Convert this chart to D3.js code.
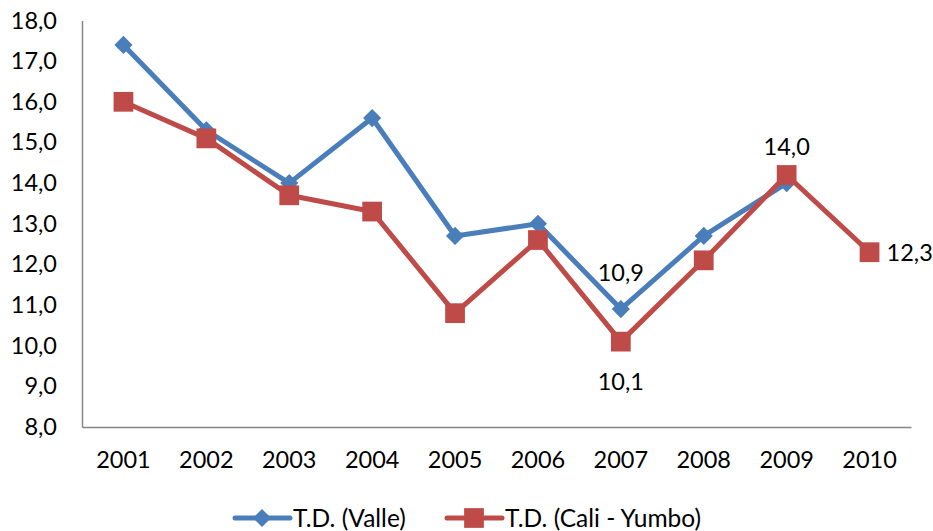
<!DOCTYPE html>
<html><head><meta charset="utf-8">
<script src="https://cdn.jsdelivr.net/npm/d3@7"></script>
<style>
html,body{margin:0;padding:0;background:#fff;}
text{font-family:Lato,"Open Sans",sans-serif;fill:#000;}
</style></head>
<body><svg id="c" width="933" height="531"></svg>
<script>
const years = ["2001","2002","2003","2004","2005","2006","2007","2008","2009","2010"];
const valle = [17.4,15.3,14.0,15.6,12.7,13.0,10.9,12.7,14.0,null];
const caliYumbo = [16.0,15.1,13.7,13.3,10.8,12.6,10.1,12.1,14.2,12.3];
const yTicks = [8,9,10,11,12,13,14,15,16,17,18];
const seriesNames = ["T.D. (Valle)","T.D. (Cali - Yumbo)"];
// data labels shown: [seriesIndex, yearIndex, position]
const labelPoints = [[0,6,"above"],[1,6,"below"],[0,8,"aboveRed"],[1,9,"right"]];

const svg = d3.select("#c");
const blue = "#4A7EBB", red = "#BE4B48";
const FS = 23.5;
const fmt = v => d3.format(".1f")(v).replace(".", ",");

const x = d3.scaleBand().domain(years).range([82, 911]);
const y = d3.scaleLinear().domain([8, 18]).range([427, 20.5]);

// axes
const yAxis = svg.append("g").attr("transform","translate(82,0)")
  .call(d3.axisLeft(y).tickValues(yTicks).tickSize(0).tickPadding(25).tickFormat(fmt));
yAxis.select(".domain").attr("stroke","#868686").attr("stroke-width",1.5);
yAxis.selectAll("text").attr("font-size",FS).style("font-family","Lato");

const xAxis = svg.append("g").attr("transform","translate(0,427)")
  .call(d3.axisBottom(x).tickSize(0).tickPadding(24));
xAxis.select(".domain").attr("stroke","#868686").attr("stroke-width",1.5);
xAxis.selectAll("text").attr("font-size",FS).style("font-family","Lato");

const cx = i => x(years[i]) + x.bandwidth()/2;
const line = d3.line().defined(d => d != null).x((d,i) => cx(i)).y(d => y(d));

// marker: diamond = square rotated 45°
const markers = {
  diamond: {sym: d3.symbol().type(d3.symbolSquare).size(165)(), rot: 45},
  square: {sym: d3.symbol().type(d3.symbolSquare).size(390)(), rot: 0}
};

function drawSeries(vals, color, m){
  svg.append("path").datum(vals).attr("d", line)
    .attr("fill","none").attr("stroke",color).attr("stroke-width",5).attr("stroke-linejoin","round");
  svg.append("g").selectAll("path").data(vals.map((v,i)=>[v,i]).filter(d=>d[0]!=null))
    .join("path")
    .attr("d", m.sym)
    .attr("transform", d => `translate(${cx(d[1])},${y(d[0])}) rotate(${m.rot})`)
    .attr("fill", color);
}
drawSeries(valle, blue, markers.diamond);
drawSeries(caliYumbo, red, markers.square);

// data labels
const all = [valle, caliYumbo];
labelPoints.forEach(([s,i,pos]) => {
  const v = all[s][i];
  let tx = cx(i), ty = y(v), anchor = "middle";
  if (pos === "above") ty -= 36;
  else if (pos === "below") ty += 40;
  else if (pos === "aboveRed") ty = y(caliYumbo[i]) - 28;
  else if (pos === "right") { tx += 17; anchor = "start"; ty += 1; }
  svg.append("text").attr("x",tx).attr("y",ty).attr("dy","0.35em")
    .attr("text-anchor",anchor).attr("font-size",FS).text(fmt(v));
});

// legend
const lg = svg.append("g").attr("transform","translate(0,518)");
const legendItems = [
  {name: seriesNames[0], color: blue, m: markers.diamond, x0: 235},
  {name: seriesNames[1], color: red, m: markers.square, x0: 447}
];
legendItems.forEach(it => {
  lg.append("line").attr("x1", it.x0).attr("x2", it.x0+55).attr("y1",0).attr("y2",0)
    .attr("stroke", it.color).attr("stroke-width",5).attr("stroke-linecap","round");
  lg.append("path").attr("d", it.m.sym)
    .attr("transform", `translate(${it.x0+27},0) rotate(${it.m.rot})`).attr("fill", it.color);
  lg.append("text").attr("x", it.x0+58).attr("y",0).attr("dy","0.35em")
    .attr("font-size",24.5).text(it.name);
});
</script></body></html>
